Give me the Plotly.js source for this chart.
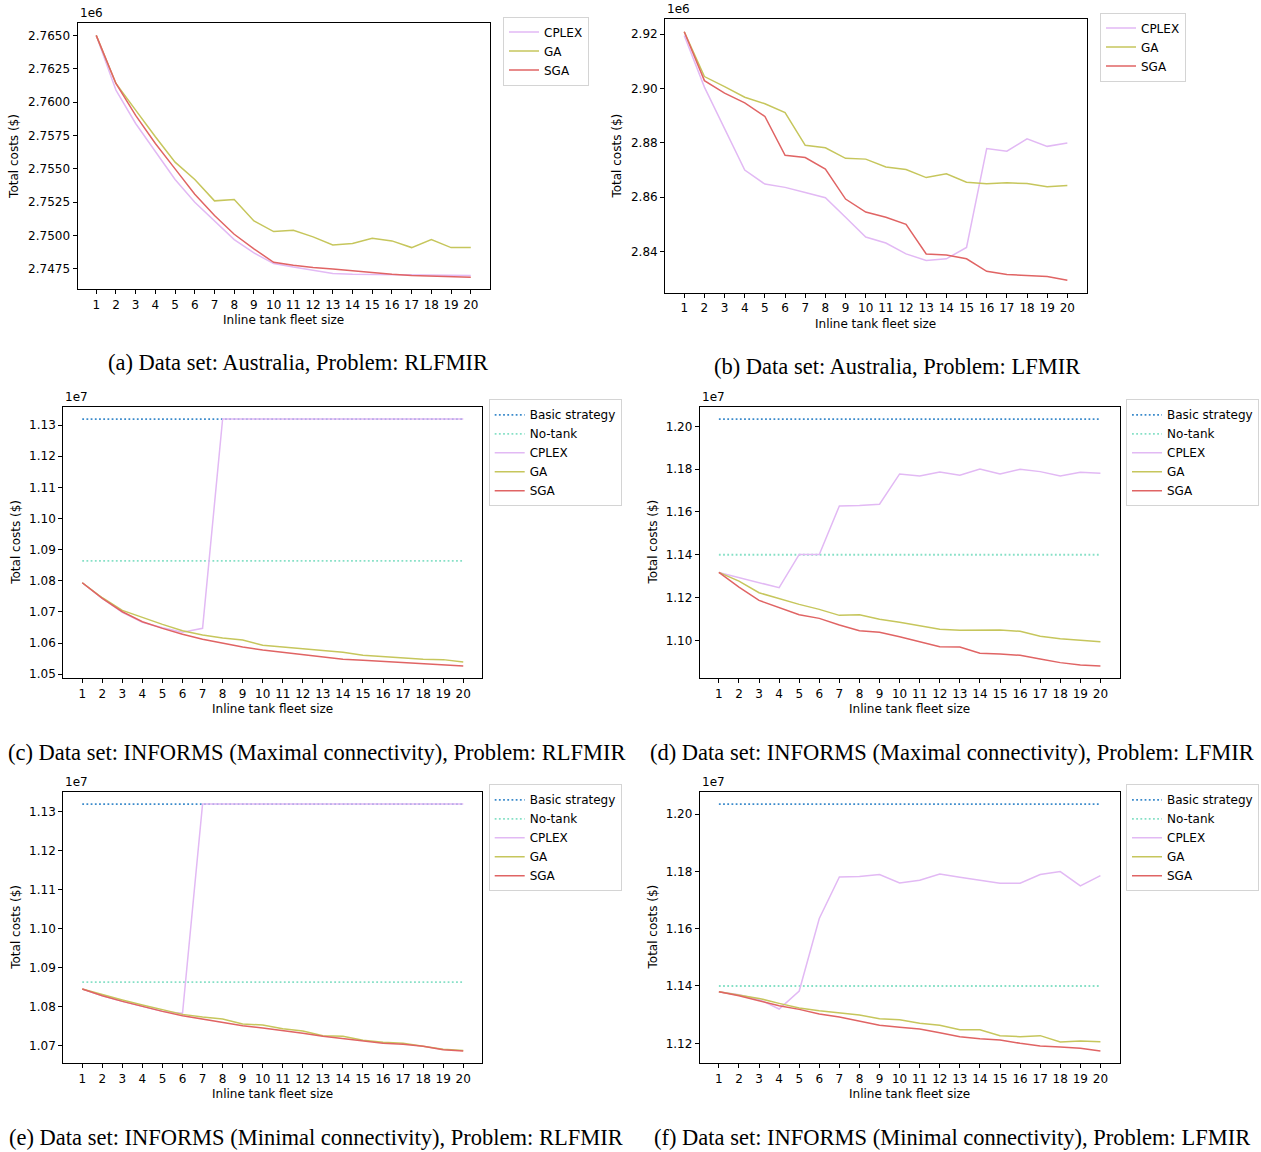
<!DOCTYPE html>
<html>
<head>
<meta charset="utf-8">
<script src="https://cdn.plot.ly/plotly-3.0.1.min.js"></script>
<style>html,body{margin:0;padding:0;background:#fff;}#chart{width:1261px;height:1152px;}</style>
</head>
<body>
<div id="chart"></div>
<script>
// ---------- DATA (values in the axis units shown: x1e6 for (a),(b); x1e7 for (c)-(f)) ----------
const fleet = [1,2,3,4,5,6,7,8,9,10,11,12,13,14,15,16,17,18,19,20];
const seriesNames = ["Basic strategy", "No-tank", "CPLEX", "GA", "SGA"];
const captions = [
  "(a) Data set: Australia, Problem: RLFMIR",
  "(b) Data set: Australia, Problem: LFMIR",
  "(c) Data set: INFORMS (Maximal connectivity), Problem: RLFMIR",
  "(d) Data set: INFORMS (Maximal connectivity), Problem: LFMIR",
  "(e) Data set: INFORMS (Minimal connectivity), Problem: RLFMIR",
  "(f) Data set: INFORMS (Minimal connectivity), Problem: LFMIR"
];
const multipliers = ["1e6", "1e6", "1e7", "1e7", "1e7", "1e7"];
const xTitle = "Inline tank fleet size";
const yTitle = "Total costs ($)";

// (a) Australia, RLFMIR
const aCplex = [2.7650, 2.7609, 2.7584, 2.7563, 2.7542, 2.7525, 2.7511, 2.7497, 2.7487, 2.7479, 2.74765, 2.7474, 2.74715, 2.7471, 2.74708, 2.74705, 2.74702, 2.74700, 2.74700, 2.74700];
const aGA    = [2.7650, 2.7614, 2.7594, 2.7574, 2.7555, 2.7542, 2.7526, 2.7527, 2.7511, 2.7503, 2.7504, 2.7499, 2.7493, 2.7494, 2.7498, 2.7496, 2.7491, 2.7497, 2.7491, 2.7491];
const aSGA   = [2.7650, 2.7614, 2.7590, 2.7569, 2.7550, 2.7531, 2.7515, 2.7501, 2.7490, 2.7480, 2.74777, 2.7476, 2.7475, 2.74735, 2.7472, 2.7471, 2.7470, 2.74695, 2.7469, 2.74688];

// (b) Australia, LFMIR
const bCplex = [2.9195, 2.9005, 2.8852, 2.8700, 2.8648, 2.8636, 2.8617, 2.8598, 2.8526, 2.8453, 2.8431, 2.8391, 2.8367, 2.8373, 2.8415, 2.8779, 2.8769, 2.8815, 2.8787, 2.8799];
const bGA    = [2.9209, 2.9044, 2.9007, 2.8968, 2.8944, 2.8911, 2.8791, 2.8782, 2.8743, 2.8740, 2.8711, 2.8702, 2.8672, 2.8686, 2.8655, 2.8649, 2.8653, 2.8650, 2.8638, 2.8643];
const bSGA   = [2.9209, 2.9029, 2.8983, 2.8947, 2.8897, 2.8754, 2.8746, 2.8703, 2.8593, 2.8545, 2.8526, 2.8500, 2.8391, 2.8387, 2.8373, 2.8327, 2.8315, 2.8311, 2.8308, 2.8294];

// (c) INFORMS maximal, RLFMIR
const cBasic  = [1.13192, 1.13192, 1.13192, 1.13192, 1.13192, 1.13192, 1.13192, 1.13192, 1.13192, 1.13192, 1.13192, 1.13192, 1.13192, 1.13192, 1.13192, 1.13192, 1.13192, 1.13192, 1.13192, 1.13192];
const cNoTank = [1.08641, 1.08641, 1.08641, 1.08641, 1.08641, 1.08641, 1.08641, 1.08641, 1.08641, 1.08641, 1.08641, 1.08641, 1.08641, 1.08641, 1.08641, 1.08641, 1.08641, 1.08641, 1.08641, 1.08641];
const cCplex  = [1.07936, 1.07434, 1.06985, 1.06665, 1.06494, 1.06344, 1.06472, 1.13192, 1.13192, 1.13192, 1.13192, 1.13192, 1.13192, 1.13192, 1.13192, 1.13192, 1.13192, 1.13192, 1.13192, 1.13192];
const cGA     = [1.07936, 1.07455, 1.07049, 1.06814, 1.06600, 1.06397, 1.06259, 1.06162, 1.06098, 1.05927, 1.05874, 1.05810, 1.05756, 1.05703, 1.05607, 1.05564, 1.05532, 1.05479, 1.05468, 1.05393];
const cSGA    = [1.07936, 1.07434, 1.07006, 1.06686, 1.06472, 1.06280, 1.06120, 1.05991, 1.05874, 1.05778, 1.05703, 1.05618, 1.05532, 1.05479, 1.05447, 1.05415, 1.05372, 1.05329, 1.05297, 1.05265];

// (d) INFORMS maximal, LFMIR
const dBasic  = [1.20342, 1.20342, 1.20342, 1.20342, 1.20342, 1.20342, 1.20342, 1.20342, 1.20342, 1.20342, 1.20342, 1.20342, 1.20342, 1.20342, 1.20342, 1.20342, 1.20342, 1.20342, 1.20342, 1.20342];
const dNoTank = [1.14000, 1.14000, 1.14000, 1.14000, 1.14000, 1.14000, 1.14000, 1.14000, 1.14000, 1.14000, 1.14000, 1.14000, 1.14000, 1.14000, 1.14000, 1.14000, 1.14000, 1.14000, 1.14000, 1.14000];
const dCplex  = [1.13173, 1.12939, 1.12706, 1.12457, 1.14012, 1.14012, 1.16283, 1.16299, 1.16361, 1.17776, 1.17683, 1.17869, 1.17714, 1.18010, 1.17776, 1.17994, 1.17885, 1.17683, 1.17854, 1.17807];
const dGA     = [1.13173, 1.12768, 1.12224, 1.11944, 1.11680, 1.11446, 1.11166, 1.11197, 1.10980, 1.10840, 1.10669, 1.10513, 1.10467, 1.10467, 1.10482, 1.10420, 1.10187, 1.10078, 1.10016, 1.09938];
const dSGA    = [1.13173, 1.12488, 1.11866, 1.11540, 1.11197, 1.11026, 1.10715, 1.10451, 1.10373, 1.10171, 1.09922, 1.09705, 1.09689, 1.09393, 1.09362, 1.09300, 1.09129, 1.08958, 1.08849, 1.08802];

// (e) INFORMS minimal, RLFMIR
const eBasic  = [1.13196, 1.13196, 1.13196, 1.13196, 1.13196, 1.13196, 1.13196, 1.13196, 1.13196, 1.13196, 1.13196, 1.13196, 1.13196, 1.13196, 1.13196, 1.13196, 1.13196, 1.13196, 1.13196, 1.13196];
const eNoTank = [1.08630, 1.08630, 1.08630, 1.08630, 1.08630, 1.08630, 1.08630, 1.08630, 1.08630, 1.08630, 1.08630, 1.08630, 1.08630, 1.08630, 1.08630, 1.08630, 1.08630, 1.08630, 1.08630, 1.08630];
const eCplex  = [1.08451, 1.08280, 1.08135, 1.07999, 1.07879, 1.07828, 1.13196, 1.13196, 1.13196, 1.13196, 1.13196, 1.13196, 1.13196, 1.13196, 1.13196, 1.13196, 1.13196, 1.13196, 1.13196, 1.13196];
const eGA     = [1.08451, 1.08306, 1.08170, 1.08041, 1.07913, 1.07802, 1.07734, 1.07683, 1.07555, 1.07529, 1.07435, 1.07376, 1.07256, 1.07239, 1.07137, 1.07085, 1.07060, 1.06991, 1.06906, 1.06873];
const eSGA    = [1.08451, 1.08280, 1.08135, 1.07999, 1.07879, 1.07768, 1.07683, 1.07598, 1.07512, 1.07453, 1.07393, 1.07316, 1.07239, 1.07180, 1.07111, 1.07060, 1.07034, 1.06983, 1.06898, 1.06864];

// (f) INFORMS minimal, LFMIR
const fBasic  = [1.20348, 1.20348, 1.20348, 1.20348, 1.20348, 1.20348, 1.20348, 1.20348, 1.20348, 1.20348, 1.20348, 1.20348, 1.20348, 1.20348, 1.20348, 1.20348, 1.20348, 1.20348, 1.20348, 1.20348];
const fNoTank = [1.14000, 1.14000, 1.14000, 1.14000, 1.14000, 1.14000, 1.14000, 1.14000, 1.14000, 1.14000, 1.14000, 1.14000, 1.14000, 1.14000, 1.14000, 1.14000, 1.14000, 1.14000, 1.14000, 1.14000];
const fCplex  = [1.13800, 1.13695, 1.13533, 1.13196, 1.13823, 1.16354, 1.17806, 1.17817, 1.17887, 1.17597, 1.17689, 1.17910, 1.17794, 1.17689, 1.17585, 1.17585, 1.17887, 1.17991, 1.17492, 1.17852];
const fGA     = [1.13800, 1.13695, 1.13567, 1.13393, 1.13231, 1.13138, 1.13057, 1.12987, 1.12859, 1.12824, 1.12697, 1.12627, 1.12476, 1.12476, 1.12267, 1.12232, 1.12267, 1.12047, 1.12081, 1.12058];
const fSGA    = [1.13800, 1.13660, 1.13486, 1.13312, 1.13184, 1.13022, 1.12917, 1.12778, 1.12627, 1.12557, 1.12499, 1.12372, 1.12232, 1.12163, 1.12116, 1.12000, 1.11907, 1.11872, 1.11826, 1.11733];

// y tick settings per panel
const yTickStart = [2.7475, 2.84, 1.05, 1.10, 1.07, 1.12];
const yTickStep  = [0.0025, 0.02, 0.01, 0.02, 0.01, 0.02];
const yTickFmt   = [".4f", ".2f", ".2f", ".2f", ".2f", ".2f"];

// ---------- STYLE / LAYOUT ----------
const W = 1261, H = 1152;
const colors = {"Basic strategy": "#3a8acb", "No-tank": "#86e0c6", "CPLEX": "#e2b9f4", "GA": "#c6c65c", "SGA": "#e06464"};
const sansFont = "DejaVu Sans, sans-serif";
const serifFont = "Liberation Serif, serif";

// frame boxes in pixels: [left, right, top, bottom]
const frames = [
  [77.5, 489.5, 23.3, 289.3],
  [665.1, 1086.5, 19.3, 292.7],
  [63.2, 482.3, 406.7, 678.3],
  [699.8, 1119.5, 406.7, 678.3],
  [63.2, 482.3, 791.7, 1063.3],
  [699.8, 1119.5, 791.7, 1063.3]
];
// legend top-left in px
const legendPos = [[503, 16.5], [1100, 12.5], [488.7, 399.3], [1126, 399.3], [488.7, 784.3], [1126, 784.3]];
const yLabelX = [14.6, 616.6, 15.3, 652, 15.3, 652];
const captionPos = [[298, 362], [897, 367], [316, 752], [952, 752], [316, 1137], [952, 1137]];

const panels = [
  {CPLEX: aCplex, GA: aGA, SGA: aSGA},
  {CPLEX: bCplex, GA: bGA, SGA: bSGA},
  {"Basic strategy": cBasic, "No-tank": cNoTank, CPLEX: cCplex, GA: cGA, SGA: cSGA},
  {"Basic strategy": dBasic, "No-tank": dNoTank, CPLEX: dCplex, GA: dGA, SGA: dSGA},
  {"Basic strategy": eBasic, "No-tank": eNoTank, CPLEX: eCplex, GA: eGA, SGA: eSGA},
  {"Basic strategy": fBasic, "No-tank": fNoTank, CPLEX: fCplex, GA: fGA, SGA: fSGA}
];

const traces = [];
const layout = {
  width: W, height: H,
  margin: {l: 0, r: 0, t: 0, b: 0},
  paper_bgcolor: "#fff", plot_bgcolor: "#fff",
  font: {family: sansFont, size: 12, color: "#000"},
  annotations: [],
  showlegend: true
};

panels.forEach((p, i) => {
  const n = i + 1;
  const xa = "x" + (n === 1 ? "" : n), ya = "y" + (n === 1 ? "" : n);
  const legId = "legend" + (n === 1 ? "" : n);
  let lo = Infinity, hi = -Infinity;
  seriesNames.forEach(name => {
    if (!p[name]) return;
    p[name].forEach(v => { lo = Math.min(lo, v); hi = Math.max(hi, v); });
    const dotted = (name === "Basic strategy" || name === "No-tank");
    traces.push({
      type: "scatter", mode: "lines", name: name,
      x: fleet, y: p[name], xaxis: xa, yaxis: ya, legend: legId,
      line: {color: colors[name], width: dotted ? 1.8 : 1.5, dash: dotted ? "1.8px,2.4px" : "solid"},
      hoverinfo: "skip"
    });
  });
  const pad = (hi - lo) * 0.05;
  const [fl, fr, ft, fb] = frames[i];
  const xKey = "xaxis" + (n === 1 ? "" : n), yKey = "yaxis" + (n === 1 ? "" : n);
  const axCommon = {
    showline: true, mirror: true, linecolor: "#000", linewidth: 1,
    ticks: "outside", ticklen: 4, tickwidth: 1, tickcolor: "#000",
    showgrid: false, zeroline: false,
    tickfont: {family: sansFont, size: 12, color: "#000"}
  };
  layout[xKey] = Object.assign({}, axCommon, {
    domain: [fl / W, fr / W], anchor: ya,
    range: [fleet[0] - 0.95, fleet[fleet.length - 1] + 0.95],
    tickmode: "array", tickvals: fleet, ticktext: fleet.map(String)
  });
  layout[yKey] = Object.assign({}, axCommon, {
    domain: [1 - fb / H, 1 - ft / H], anchor: xa,
    range: [lo - pad, hi + pad],
    tickmode: "linear", tick0: yTickStart[i], dtick: yTickStep[i], tickformat: yTickFmt[i]
  });
  layout[legId] = {
    x: legendPos[i][0] / W, y: 1 - legendPos[i][1] / H, xanchor: "left", yanchor: "top",
    bgcolor: "#fff", bordercolor: "#d4d4d4", borderwidth: 1,
    font: {family: sansFont, size: 12, color: "#000"}, tracegroupgap: 0
  };
  // multiplier "1e6"/"1e7"
  layout.annotations.push({
    xref: "paper", yref: "paper", x: fl / W, y: 1 - (ft - 1) / H, xanchor: "left", yanchor: "bottom",
    text: multipliers[i], showarrow: false, font: {family: sansFont, size: 12, color: "#000"}
  });
  // y axis title
  layout.annotations.push({
    xref: "paper", yref: "paper", x: yLabelX[i] / W, y: 1 - ((ft + fb) / 2) / H, xanchor: "center", yanchor: "middle",
    text: yTitle, textangle: -90, showarrow: false, font: {family: sansFont, size: 12, color: "#000"}
  });
  // x axis title
  layout.annotations.push({
    xref: "paper", yref: "paper", x: ((fl + fr) / 2) / W, y: 1 - (fb + 31) / H, xanchor: "center", yanchor: "middle",
    text: xTitle, showarrow: false, font: {family: sansFont, size: 12, color: "#000"}
  });
  // caption
  layout.annotations.push({
    xref: "paper", yref: "paper", x: captionPos[i][0] / W, y: 1 - captionPos[i][1] / H, xanchor: "center", yanchor: "middle",
    text: captions[i], showarrow: false, font: {family: serifFont, size: 22.5, color: "#000"}
  });
});

Plotly.newPlot("chart", traces, layout, {staticPlot: true, displayModeBar: false});
</script>
</body>
</html>
